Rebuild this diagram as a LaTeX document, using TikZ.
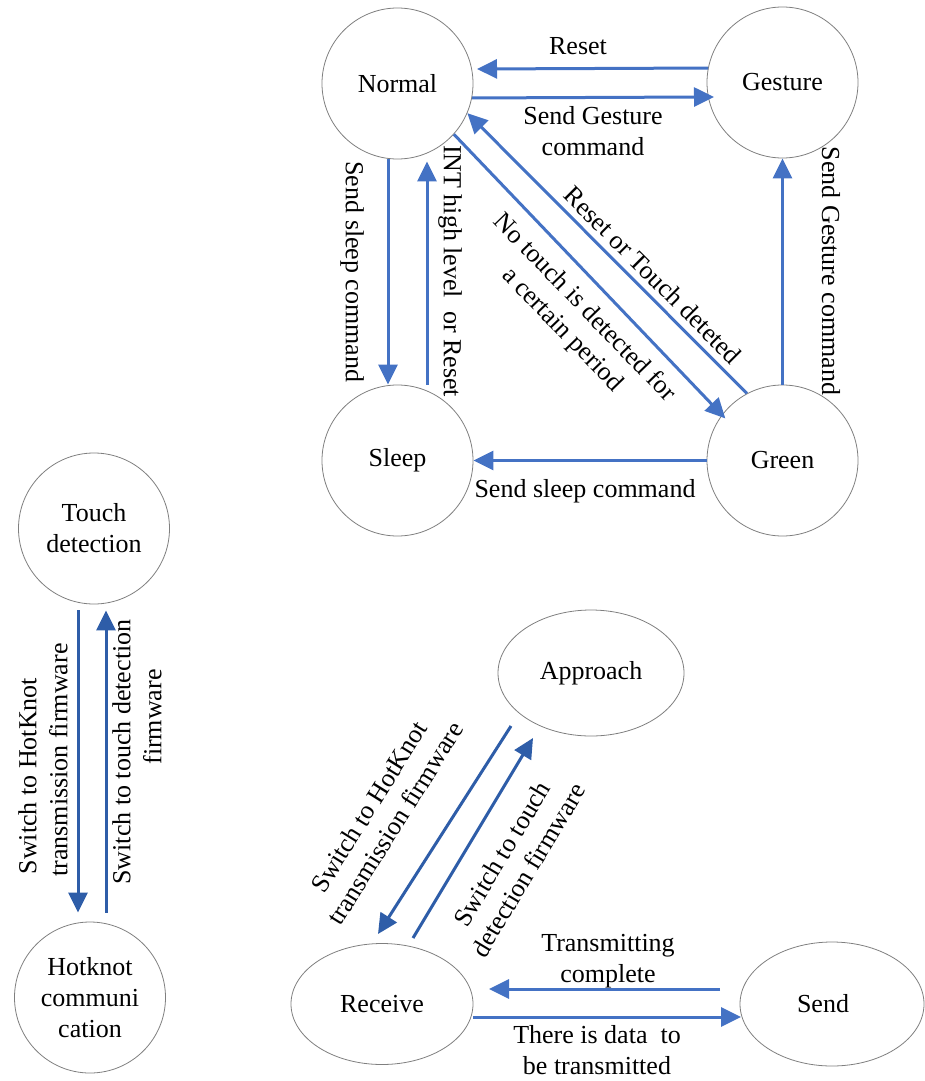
\documentclass[tikz,border=0pt]{standalone}
\usepackage{fontspec}
\setmainfont{Liberation Serif}
\usetikzlibrary{arrows.meta,shapes.geometric,calc}
\definecolor{topblue}{HTML}{4472C4}
\definecolor{lowblue}{HTML}{2E5DA8}
\definecolor{ring}{HTML}{7F7F7F}
\begin{document}
\begin{tikzpicture}[x=1pt,y=-1pt,
  txt/.style={font=\fontsize{26}{31}\selectfont, inner sep=0pt, align=center},
  state/.style={txt, circle, draw=ring, line width=0.8pt, minimum size=151pt},
  oval/.style={txt, ellipse, draw=ring, line width=0.8pt},
  arr/.style={draw=topblue, line width=3pt, -{Triangle[length=20pt,width=19pt]}},
  arrd/.style={draw=lowblue, line width=3pt, -{Triangle[length=20pt,width=19pt]}},
  lbl/.style={txt}]
\useasboundingbox (0,0) rectangle (924,1081);
% states (top)
\node[state] (Normal)  at (397.5,83.5) {Normal};
\node[state] (Gesture) at (782.5,82.5) {Gesture};
\node[state] (Sleep)   at (397.5,460.5) {Sleep};
\node[state] (Green)   at (782.5,460.5) {Green};
% left
\node[state] (Touch) at (94,528.5) {Touch\\detection};
\node[state] (Hot)   at (90,997.5) {Hotknot\\communi\\cation};
% lower
\node[oval, minimum width=186pt, minimum height=126pt] (Approach) at (591,673) {Approach};
\node[oval, minimum width=182pt, minimum height=121pt] (Receive) at (382,1004) {Receive};
\node[oval, minimum width=184pt, minimum height=124pt] (Send) at (832,1004) {Send\hspace*{18pt}};

% top connectors
\draw[arr, shorten >=5pt] (Gesture.169) -- (Normal.11);
\draw[arr, shorten >=-6pt] (Normal.-11) -- (Gesture.191);
\draw[arr] ([xshift=-9.5pt]Normal.south) -- ([xshift=-9.5pt]Sleep.north);
\draw[arr, shorten >=2pt] ([xshift=29.5pt]Sleep.north) -- ([xshift=29.5pt]Normal.south);
\draw[arr] (Green.north) -- (Gesture.south);
\draw[arr] (Green.west) -- (Sleep.east);
\draw[arr, shorten >=-5pt] (Normal.-42) -- (Green.143.5);
\draw[arr] (Green.118) -- (Normal.-23);
% left connectors
\draw[arrd, shorten <=6pt, shorten >=9pt] ([xshift=-16pt]Touch.south) -- ([xshift=-12pt]Hot.north);
\draw[arrd, shorten <=9pt, shorten >=6pt] ([xshift=16pt]Hot.north) -- ([xshift=12pt]Touch.south);
% lower connectors
\draw[arrd] ($(Approach.center)+(-80,53)$) -- ($(Receive.center)+(-4,-70)$);
\draw[arrd] ($(Receive.center)+(31,-66)$) -- ($(Approach.center)+(-58,65)$);
\draw[arr] ($(Send.center)+(-112,-15)$) -- ($(Receive.center)+(107,-15)$);
\draw[arr] ($(Receive.center)+(91,13)$) -- ($(Send.center)+(-91,13)$);

% labels top
\node[lbl] (lReset) at (578,46) {Reset};
\node[lbl] (lSG) at (593,131) {Send Gesture\\command};
\node[lbl, rotate=-90] (lSS1) at (352,272) {Send sleep command};
\node[lbl, rotate=-90] (lINT) at (450,271) {INT high level~ or Reset};
\node[lbl, rotate=-90] (lSG2) at (831,271) {Send Gesture command};
\node[lbl, rotate=-45] (lRT) at (653,275) {Reset or Touch deteted};
\node[lbl, rotate=-46] (lNT) at (573,319) {No touch is detected for\\a certain period};
\node[lbl] (lSS2) at (585,491) {Send sleep command};
% labels left
\node[lbl, rotate=90] (lL1) at (43,760) {Switch to HotKnot\hspace*{32pt}\\transmission firmware};
\node[lbl, rotate=90] (lL2) at (137,752) {Switch to touch detection\\\hspace*{70pt}firmware};
% labels lower
\node[lbl, rotate=58] (lD1) at (382,815) {Switch to HotKnot\\transmission firmware};
\node[lbl, rotate=59] (lD2) at (515,862) {Switch to touch\\detection firmware};
\node[lbl] (lTC) at (608,961) {Transmitting\\complete};
\node[lbl] (lTD) at (597,1050) {There is data~ to\\be transmitted};
\end{tikzpicture}
\end{document}
